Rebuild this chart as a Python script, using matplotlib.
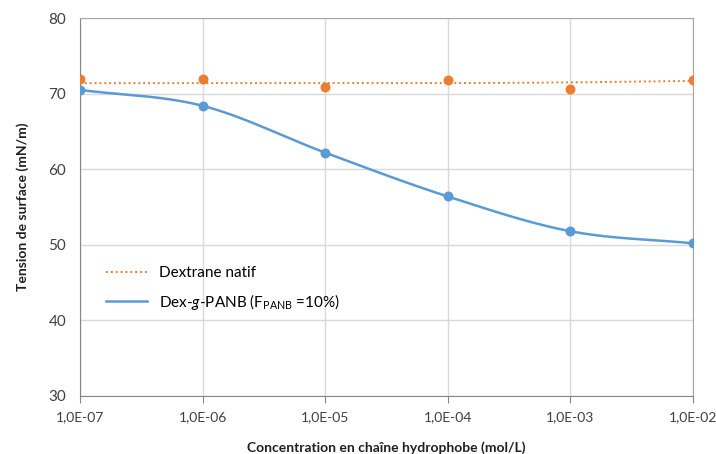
import numpy as np
import matplotlib
matplotlib.use("Agg")
import matplotlib.pyplot as plt
from matplotlib.ticker import FixedLocator, FuncFormatter, NullLocator

plt.rcParams['font.family'] = ['Lato', 'DejaVu Sans']
plt.rcParams['mathtext.fontset'] = 'custom'
plt.rcParams['mathtext.rm'] = 'Lato'
plt.rcParams['mathtext.it'] = 'Lato:italic'

# données
concentrations = [1e-7, 1e-6, 1e-5, 1e-4, 1e-3, 1e-2]
dextrane_natif = [71.9, 71.9, 70.9, 71.8, 70.6, 71.8]
tendance_natif = [71.4, 71.4, 71.4, 71.4, 71.5, 71.7]
dex_g_panb = [70.5, 68.4, 62.2, 56.4, 51.8, 50.2]

orange = '#ED7D31'
bleu = '#5B9BD5'


def catmull_rom(x, y, n=40):
    # courbe lissée façon Excel
    x = np.asarray(x, float)
    y = np.asarray(y, float)
    px = np.concatenate([[2 * x[0] - x[1]], x, [2 * x[-1] - x[-2]]])
    py = np.concatenate([[2 * y[0] - y[1]], y, [2 * y[-1] - y[-2]]])
    xs, ys = [], []
    t = np.linspace(0, 1, n)
    for i in range(1, len(px) - 2):
        for arr, out in ((px, xs), (py, ys)):
            p0, p1, p2, p3 = arr[i - 1:i + 3]
            out.extend(0.5 * ((2 * p1) + (-p0 + p2) * t
                              + (2 * p0 - 5 * p1 + 4 * p2 - p3) * t ** 2
                              + (-p0 + 3 * p1 - 3 * p2 + p3) * t ** 3))
    return np.array(xs), np.array(ys)


fig = plt.figure(figsize=(7.16, 4.54), dpi=100)
ax = fig.add_axes([0.1117, 0.1278, 0.8563, 0.8322])

logx = np.log10(concentrations)

# courbe de tendance du dextrane natif
tx, ty = catmull_rom(logx, tendance_natif)
ax.plot(10 ** tx, ty, color=orange, ls=(0, (1, 1.5)), lw=1.4,
        label='Dextrane natif', zorder=3)
ax.scatter(concentrations, dextrane_natif, color=orange, s=38, zorder=4)

sx, sy = catmull_rom(logx, dex_g_panb)
ax.plot(10 ** sx, sy, color=bleu, lw=1.8,
        label=r'Dex-$\it{g}$-PANB (F$_{\rm PANB}$ =10%)', zorder=3)
ax.scatter(concentrations, dex_g_panb, color=bleu, s=38, zorder=4)

ax.set_xscale('log')
ax.set_xlim(1e-7, 1e-2)
ax.set_ylim(30, 80)
ax.xaxis.set_major_locator(FixedLocator(concentrations))
ax.xaxis.set_minor_locator(NullLocator())
ax.xaxis.set_major_formatter(FuncFormatter(lambda v, p: '1,0E%+03d' % round(np.log10(v))))
ax.set_yticks([30, 40, 50, 60, 70, 80])

ax.grid(True, color='#D9D9D9', lw=1)
ax.set_axisbelow(True)
for s in ['top', 'right']:
    ax.spines[s].set_color('#A6A6A6')
ax.spines['left'].set_color('#868686')
ax.spines['bottom'].set_color('#868686')
ax.tick_params(axis='x', colors='#868686', length=5, labelcolor='#404040', labelsize=10, pad=6)
ax.tick_params(axis='y', length=0, labelcolor='#404040', labelsize=11, pad=10)

ax.set_xlabel('Concentration en chaîne hydrophobe (mol/L)', fontsize=10, fontweight='bold',
              labelpad=13, color='#202020')
ax.set_ylabel('Tension de surface (mN/m)', fontsize=10, fontweight='bold',
              labelpad=14, color='#202020')

ax.legend(loc='upper left', bbox_to_anchor=(0.02, 0.38), frameon=False, fontsize=11,
          handlelength=2.7, labelspacing=0.75)

fig.savefig('out.png', dpi=100)
